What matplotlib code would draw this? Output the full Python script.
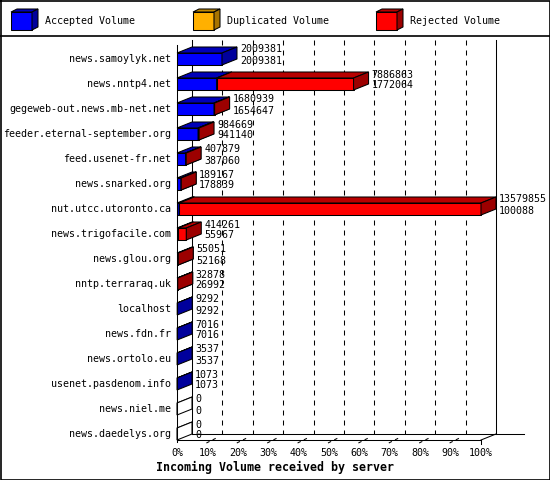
import matplotlib
matplotlib.use('Agg')
import matplotlib.pyplot as plt
from matplotlib.patches import Polygon

plt.rcParams['lines.scale_dashes'] = False

servers = ["news.samoylyk.net", "news.nntp4.net", "gegeweb-out.news.mb-net.net",
           "feeder.eternal-september.org", "feed.usenet-fr.net", "news.snarked.org",
           "nut.utcc.utoronto.ca", "news.trigofacile.com", "news.glou.org",
           "nntp.terraraq.uk", "localhost", "news.fdn.fr", "news.ortolo.eu",
           "usenet.pasdenom.info", "news.niel.me", "news.daedelys.org"]
total_volume = [2009381, 7886863, 1680939, 984669, 407879, 189167, 13579855, 414261,
                55051, 32878, 9292, 7016, 3537, 1073, 0, 0]
accepted_volume = [2009381, 1772064, 1654647, 941140, 387060, 178839, 100088, 55967,
                   52168, 26992, 9292, 7016, 3537, 1073, 0, 0]
pct_ticks = [0, 10, 20, 30, 40, 50, 60, 70, 80, 90, 100]
tick_labels = [f"{p}%" for p in pct_ticks]
legend_labels = ["Accepted Volume", "Duplicated Volume", "Rejected Volume"]
xlabel = "Incoming Volume received by server"

# colours (front, top, side)
BLUE = ("#0000ff", "#0000b8", "#00009c")
ORANGE = ("#ffb000", "#c08800", "#a87400")
RED = ("#ff0000", "#b80000", "#9c0000")
WHITE = ("#ffffff", "#ffffff", "#ffffff")

W, H = 550, 480
fig = plt.figure(figsize=(W / 100, H / 100), dpi=100)
fig.patch.set_facecolor('white')

FONT = dict(family='DejaVu Sans Mono', size=7.2, color='black')
LW = 0.75

maxv = max(total_volume)
X0, XW, Y0, RS = 177, 304, 59, 25
ax = fig.add_axes([0, 0, 1, 1])
ax.set_xlim(-X0 / XW * maxv, (W - X0) / XW * maxv)
ax.set_ylim((H - Y0) / RS, -Y0 / RS)
ax.axis('off')

pxx = maxv / XW          # value units per pixel
pxy = 1.0 / RS           # row units per pixel
DX = 15 * pxx            # depth offset (x)
D = 6 * pxy              # depth offset (y, upward)
h = 6 * pxy              # half bar height

n = len(servers)
front_floor = (n - 1) + h
back_floor = front_floor - D
front_top = (45 - Y0) * pxy
back_top = (40 - Y0) * pxy


def box(x0, x1, r, cols, z):
    f, t, s = cols
    ax.add_patch(Polygon([(x0, r - h), (x1, r - h), (x1, r + h), (x0, r + h)],
                         closed=True, facecolor=f, edgecolor='black', lw=LW, zorder=z))
    ax.add_patch(Polygon([(x0, r - h), (x1, r - h), (x1 + DX, r - h - D), (x0 + DX, r - h - D)],
                         closed=True, facecolor=t, edgecolor='black', lw=LW, zorder=z))
    ax.add_patch(Polygon([(x1, r - h), (x1 + DX, r - h - D), (x1 + DX, r + h - D), (x1, r + h)],
                         closed=True, facecolor=s, edgecolor='black', lw=LW, zorder=z))


# back plane grid lines
for p in pct_ticks[1:-1]:
    xv = p / 100 * maxv + DX
    ax.plot([xv, xv], [back_top, back_floor], color='black', lw=LW,
            linestyle=(0, (3.6, 3.6)), zorder=1)
# back right wall
ax.plot([maxv + DX] * 2, [back_top, back_floor], color='black', lw=LW, zorder=1)
# back left wall
ax.plot([DX] * 2, [back_top, back_floor], color='black', lw=LW, zorder=1)
# front left wall
ax.plot([0, 0], [front_top, front_floor + 2 * pxy], color='black', lw=LW, zorder=5)
# floor lines
ax.plot([DX, maxv + DX + 28 * pxx], [back_floor, back_floor], color='black', lw=LW, zorder=1)
ax.plot([0, maxv], [front_floor, front_floor], color='black', lw=LW, zorder=5)
ax.plot([maxv, maxv + DX], [front_floor, back_floor], color='black', lw=LW, zorder=5)
ax.plot([maxv, maxv], [front_floor, front_floor + 4 * pxy], color='black', lw=LW, zorder=5)

# small front ticks
for p in pct_ticks[1:-1]:
    xv = p / 100 * maxv
    ax.plot([xv - 1 * pxx, xv + 11 * pxx], [front_floor + 3 * pxy, front_floor - 3 * pxy],
            color='black', lw=LW, linestyle=(0, (2.5, 2.5)), zorder=5)

# bars
for i, (tot, acc) in enumerate(zip(total_volume, accepted_volume)):
    if tot == 0:
        box(0, 0, i, WHITE, 3)
    else:
        if acc > 0:
            box(0, acc, i, BLUE, 3)
        if tot > acc:
            box(acc, tot, i, RED, 3)
    ax.annotate(str(tot), (tot + DX, i), xytext=(3, 9.5), textcoords='offset pixels',
                ha='left', va='center', zorder=6, **FONT)
    ax.annotate(str(acc), (tot + DX, i), xytext=(3, -1.5), textcoords='offset pixels',
                ha='left', va='center', zorder=6, **FONT)
    ax.text(-6 * pxx, i, servers[i], ha='right', va='center', zorder=6, **FONT)

# percent tick labels
for p, lab in zip(pct_ticks, tick_labels):
    ax.text(p / 100 * maxv, (452.5 - Y0) * pxy, lab, ha='center', va='center', **FONT)

# overlay in pixel coordinates for frame, legend, title
ov = fig.add_axes([0, 0, 1, 1], facecolor='none')
ov.set_xlim(0, W)
ov.set_ylim(H, 0)
ov.axis('off')
ov.plot([0.5, W - 0.5, W - 0.5, 0.5, 0.5], [0.5, 0.5, H - 0.5, H - 0.5, 0.5],
        color='black', lw=1.2)
ov.plot([0, W], [36, 36], color='black', lw=1.2)

legend_x = [11, 193, 376]
for lx, lab, cols in zip(legend_x, legend_labels, [BLUE, ORANGE, RED]):
    f, t, s = cols
    bw, bh, ddx, ddy = 21, 18, 6, 3
    y0 = 12
    ov.add_patch(Polygon([(lx, y0), (lx + bw, y0), (lx + bw, y0 + bh), (lx, y0 + bh)],
                         facecolor=f, edgecolor='black', lw=LW))
    ov.add_patch(Polygon([(lx, y0), (lx + bw, y0), (lx + bw + ddx, y0 - ddy), (lx + ddx, y0 - ddy)],
                         facecolor=t, edgecolor='black', lw=LW))
    ov.add_patch(Polygon([(lx + bw, y0), (lx + bw + ddx, y0 - ddy), (lx + bw + ddx, y0 + bh - ddy),
                          (lx + bw, y0 + bh)], facecolor=s, edgecolor='black', lw=LW))
    ov.text(lx + 34, 20.5, lab, ha='left', va='center', **FONT)

ov.text(275, 467.5, xlabel, ha='center', va='center', family='DejaVu Sans Mono',
        fontweight='bold', size=8.4, color='black')

fig.savefig('out.png', dpi=100)
